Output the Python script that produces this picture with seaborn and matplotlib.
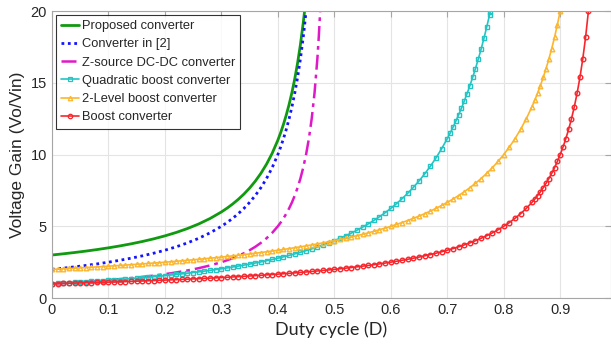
import numpy as np
import pandas as pd
import seaborn as sns
import matplotlib.pyplot as plt
from matplotlib.lines import Line2D

# duty cycle grids
d_fine_85 = np.round(np.arange(0, 0.851, 0.01), 3)
d_fine_70 = np.round(np.arange(0, 0.701, 0.01), 3)
d_low = np.r_[np.round(np.arange(0, 0.301, 0.02), 3), np.round(np.arange(0.31, 0.401, 0.01), 3)]

# Boost converter
boost_d = np.r_[d_fine_85, [0.855, 0.86, 0.865, 0.87, 0.875, 0.88, 0.885, 0.89, 0.895, 0.90,
                            0.905, 0.91, 0.915, 0.92, 0.925, 0.93, 0.935, 0.94, 0.945, 0.95]]
boost_g = [1.0, 1.0101, 1.0204, 1.0309, 1.0417, 1.0526, 1.0638, 1.0753, 1.087, 1.0989,
           1.1111, 1.1236, 1.1364, 1.1494, 1.1628, 1.1765, 1.1905, 1.2048, 1.2195, 1.2346,
           1.25, 1.2658, 1.2821, 1.2987, 1.3158, 1.3333, 1.3514, 1.3699, 1.3889, 1.4085,
           1.4286, 1.4493, 1.4706, 1.4925, 1.5152, 1.5385, 1.5625, 1.5873, 1.6129, 1.6393,
           1.6667, 1.6949, 1.7241, 1.7544, 1.7857, 1.8182, 1.8519, 1.8868, 1.9231, 1.9608,
           2.0, 2.0408, 2.0833, 2.1277, 2.1739, 2.2222, 2.2727, 2.3256, 2.381, 2.439,
           2.5, 2.5641, 2.6316, 2.7027, 2.7778, 2.8571, 2.9412, 3.0303, 3.125, 3.2258,
           3.3333, 3.4483, 3.5714, 3.7037, 3.8462, 4.0, 4.1667, 4.3478, 4.5455, 4.7619,
           5.0, 5.2632, 5.5556, 5.8824, 6.25, 6.6667,
           6.8966, 7.1429, 7.4074, 7.6923, 8.0, 8.3333, 8.6957, 9.0909, 9.5238, 10.0,
           10.526, 11.111, 11.765, 12.5, 13.333, 14.286, 15.385, 16.667, 18.182, 20.0]

# 2-Level boost converter
level2_d = np.r_[d_fine_85, [0.855, 0.86, 0.865, 0.87, 0.875, 0.88, 0.885, 0.89, 0.895, 0.90]]
level2_g = [2.0, 2.02, 2.041, 2.062, 2.083, 2.105, 2.128, 2.151, 2.174, 2.198,
            2.222, 2.247, 2.273, 2.299, 2.326, 2.353, 2.381, 2.41, 2.439, 2.469,
            2.5, 2.532, 2.564, 2.597, 2.632, 2.667, 2.703, 2.74, 2.778, 2.817,
            2.857, 2.899, 2.941, 2.985, 3.03, 3.077, 3.125, 3.175, 3.226, 3.279,
            3.333, 3.39, 3.448, 3.509, 3.571, 3.636, 3.704, 3.774, 3.846, 3.922,
            4.0, 4.082, 4.167, 4.255, 4.348, 4.444, 4.545, 4.651, 4.762, 4.878,
            5.0, 5.128, 5.263, 5.405, 5.556, 5.714, 5.882, 6.061, 6.25, 6.452,
            6.667, 6.897, 7.143, 7.407, 7.692, 8.0, 8.333, 8.696, 9.091, 9.524,
            10.0, 10.526, 11.111, 11.765, 12.5, 13.333,
            13.793, 14.286, 14.815, 15.385, 16.0, 16.667, 17.391, 18.182, 19.048, 20.0]

# Quadratic boost converter
quad_d = np.r_[d_fine_70, [0.705, 0.71, 0.715, 0.72, 0.725, 0.73, 0.735, 0.74, 0.745,
                           0.75, 0.755, 0.76, 0.765, 0.77, 0.775, 0.776]]
quad_g = [1.0, 1.0203, 1.0412, 1.0628, 1.0851, 1.108, 1.1317, 1.1562, 1.1815, 1.2076,
          1.2346, 1.2625, 1.2913, 1.3212, 1.3521, 1.3841, 1.4172, 1.4516, 1.4872, 1.5242,
          1.5625, 1.6023, 1.6437, 1.6866, 1.7313, 1.7778, 1.8262, 1.8765, 1.929, 1.9837,
          2.0408, 2.1004, 2.1626, 2.2277, 2.2957, 2.3669, 2.4414, 2.5195, 2.6015, 2.6874,
          2.7778, 2.8727, 2.9727, 3.0779, 3.1888, 3.3058, 3.4294, 3.56, 3.6982, 3.8447,
          4.0, 4.1649, 4.3403, 4.5269, 4.7259, 4.9383, 5.1653, 5.4083, 5.6689, 5.9488,
          6.25, 6.5746, 6.9252, 7.3046, 7.716, 8.1633, 8.6505, 9.1827, 9.7656, 10.406,
          11.111, 11.491, 11.891, 12.311, 12.755, 13.223, 13.717, 14.24, 14.793, 15.379,
          16.0, 16.66, 17.361, 18.108, 18.904, 19.753, 19.93]

# Z-source DC-DC converter
zsrc_d = np.r_[d_low, [0.405, 0.41, 0.415, 0.42, 0.425, 0.43, 0.435, 0.44, 0.445, 0.45,
                       0.455, 0.46, 0.465, 0.47, 0.4725, 0.475]]
zsrc_g = [1.0, 1.0417, 1.087, 1.1364, 1.1905, 1.25, 1.3158, 1.3889, 1.4706, 1.5625,
          1.6667, 1.7857, 1.9231, 2.0833, 2.2727, 2.5,
          2.6316, 2.7778, 2.9412, 3.125, 3.3333, 3.5714, 3.8462, 4.1667, 4.5455, 5.0,
          5.2632, 5.5556, 5.8824, 6.25, 6.6667, 7.1429, 7.6923, 8.3333, 9.0909, 10.0,
          11.111, 12.5, 14.286, 16.667, 18.182, 20.0]

# Converter in [2]
ref2_d = np.r_[d_low, [0.405, 0.41, 0.415, 0.42, 0.425, 0.43, 0.435, 0.44, 0.445, 0.4475, 0.45]]
ref2_g = [2.0, 2.0833, 2.1739, 2.2727, 2.381, 2.5, 2.6316, 2.7778, 2.9412, 3.125,
          3.3333, 3.5714, 3.8462, 4.1667, 4.5455, 5.0,
          5.2632, 5.5556, 5.8824, 6.25, 6.6667, 7.1429, 7.6923, 8.3333, 9.0909, 10.0,
          10.526, 11.111, 11.765, 12.5, 13.333, 14.286, 15.385, 16.667, 18.182, 19.048, 20.0]

# Proposed converter
prop_d = np.r_[d_low, [0.405, 0.41, 0.415, 0.42, 0.425, 0.43, 0.435, 0.44, 0.445, 0.4474]]
prop_g = [3.0, 3.0833, 3.1739, 3.2727, 3.381, 3.5, 3.6316, 3.7778, 3.9412, 4.125,
          4.3333, 4.5714, 4.8462, 5.1667, 5.5455, 6.0,
          6.2632, 6.5556, 6.8824, 7.25, 7.6667, 8.1429, 8.6923, 9.3333, 10.0909, 11.0,
          11.526, 12.111, 12.765, 13.5, 14.333, 15.286, 16.385, 17.667, 19.182, 20.0]

sns.set_style("white")
plt.rcParams['font.family'] = ['Liberation Sans', 'DejaVu Sans']

fig = plt.figure(figsize=(6.11, 3.49), dpi=100)
ax = fig.add_axes([0.085, 0.146, 0.915, 0.822])

series = [
    ("Proposed converter", prop_d, prop_g, "#109a10", "-", None, 2.0),
    ("Converter in [2]", ref2_d, ref2_g, "#1414ff", (0, (1, 1.3)), None, 2.0),
    ("Z-source DC-DC converter", zsrc_d, zsrc_g, "#e019c8", (0, (6, 2, 1.5, 2)), None, 1.8),
    ("Quadratic boost converter", quad_d, quad_g, "#22c4c4", "-", "s", 1.2),
    ("2-Level boost converter", level2_d, level2_g, "#fcb62e", "-", "^", 1.2),
    ("Boost converter", boost_d, boost_g, "#f8262c", "-", "o", 1.2),
]

handles = []
for name, d, g, col, ls, mk, lw in series:
    df = pd.DataFrame({"D": d, "G": g})
    sns.lineplot(data=df, x="D", y="G", ax=ax, color=col, linestyle=ls, linewidth=lw,
                 marker=mk, markersize=3.3, markerfacecolor="none", markeredgecolor=col,
                 markeredgewidth=1.0, sort=False, estimator=None)
    handles.append(Line2D([], [], color=col, linestyle=ls, linewidth=lw, marker=mk,
                          markersize=3.2, markerfacecolor="none", markeredgewidth=0.9))

ax.set_xlim(0, 0.99)
ax.set_ylim(0, 20)
ax.set_xticks(np.round(np.arange(0, 0.91, 0.1), 1))
ax.set_xticklabels(["0", "0.1", "0.2", "0.3", "0.4", "0.5", "0.6", "0.7", "0.8", "0.9"])
ax.set_yticks([0, 5, 10, 15, 20])
ax.grid(True, color="#e4e4e4", linewidth=0.8)
for s in ax.spines.values():
    s.set_color("#a6a6a6")
    s.set_linewidth(0.8)
ax.tick_params(direction="in", top=True, right=True, length=4, color="#a6a6a6",
               labelsize=10.5, labelcolor="#262626")

ax.set_xlabel("Duty cycle (D)", fontsize=13, family="Lato", labelpad=3)
ax.set_ylabel("Voltage Gain (Vo/Vin)", fontsize=12.5, labelpad=4, color="#262626")

leg = ax.legend(handles, [s[0] for s in series], loc="upper left", fontsize=9.3,
                frameon=True, fancybox=False, edgecolor="black", handlelength=1.4,
                handletextpad=0.2, borderpad=0.4, labelspacing=0.48,
                borderaxespad=0.3)
leg.get_frame().set_linewidth(0.8)

fig.savefig("out.png", dpi=100)
